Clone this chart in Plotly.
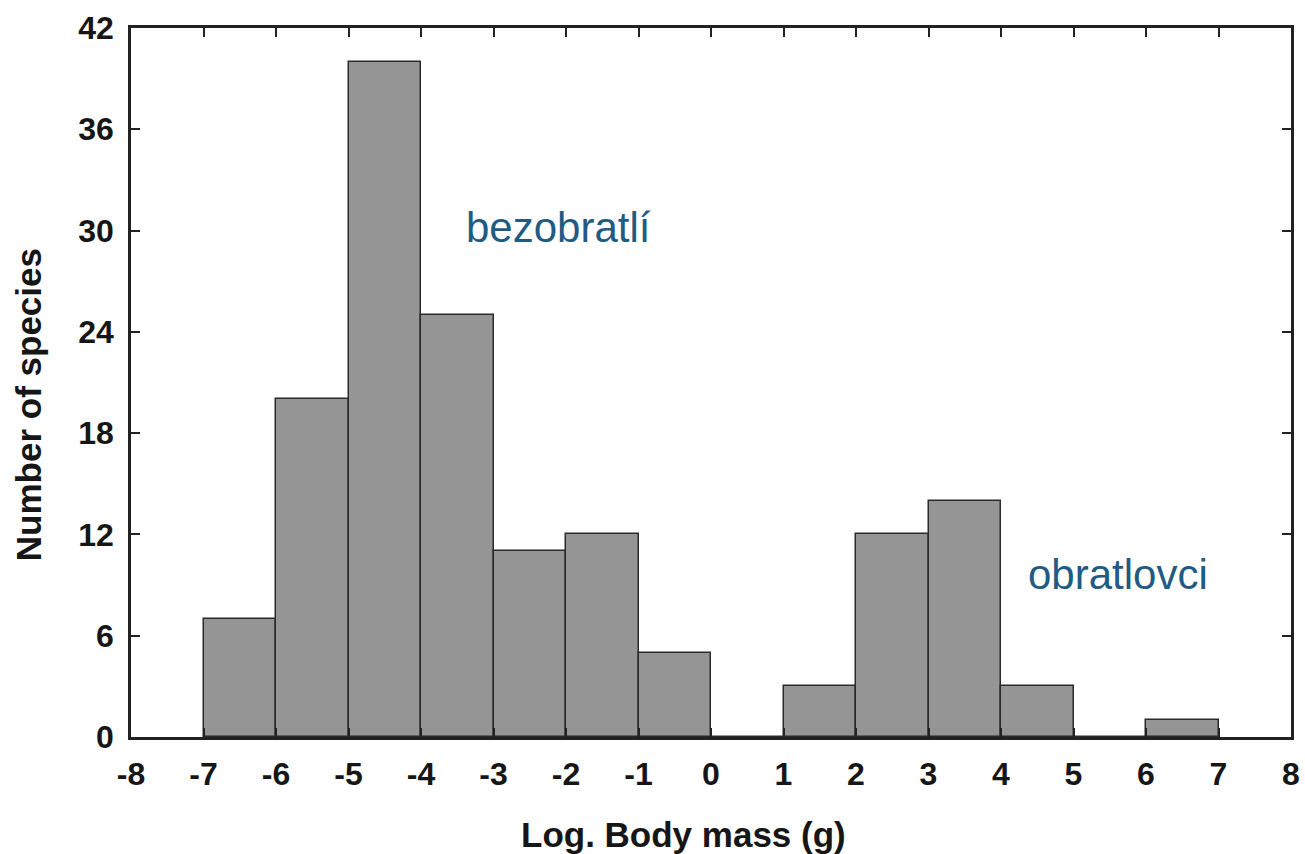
import plotly.graph_objects as go

# Histogram bins of log10 body mass (g) and species counts
bin_left = [-7, -6, -5, -4, -3, -2, -1, 0, 1, 2, 3, 4, 5, 6]
counts = [7, 20, 40, 25, 11, 12, 5, 0, 3, 12, 14, 3, 0, 1]
x_ticks = list(range(-8, 9))
y_ticks = [0, 6, 12, 18, 24, 30, 36, 42]

bin_width = 1
centers = [b + bin_width / 2 for b in bin_left]

FONT = "Liberation Sans, Arial, sans-serif"
INK = "#161616"

fig = go.Figure()
fig.add_trace(go.Bar(
    x=centers,
    y=counts,
    width=[bin_width] * len(centers),
    marker=dict(color="#959595", line=dict(color="#2a2a2a", width=1.5)),
    hoverinfo="x+y",
))

tick_font = dict(family=FONT, size=32, color=INK, weight="bold")

common_axis = dict(
    tickmode="array",
    ticks="inside",
    ticklen=9,
    tickwidth=2,
    tickcolor="#222222",
    showline=True,
    linecolor="#222222",
    linewidth=2.5,
    mirror="ticks",
    showgrid=False,
    zeroline=False,
    automargin=False,
    tickfont=tick_font,
)

fig.update_layout(
    width=1305,
    height=854,
    autosize=False,
    paper_bgcolor="white",
    plot_bgcolor="white",
    margin=dict(l=131, r=14, t=28, b=117),
    showlegend=False,
    bargap=0,
    font=dict(family=FONT, color=INK),
    xaxis=dict(
        range=[-8, 8],
        tickvals=x_ticks,
        ticktext=[str(v) for v in x_ticks],
        ticklabelstandoff=7,
        **common_axis,
    ),
    yaxis=dict(
        range=[0, 42],
        tickvals=y_ticks,
        ticktext=[str(v) for v in y_ticks],
        ticklabelstandoff=8,
        **common_axis,
    ),
)

# Axis titles (bold), placed as annotations
title_font = dict(family=FONT, size=35, color=INK, weight="bold")
fig.add_annotation(
    text="Log. Body mass (g)",
    xref="paper", yref="paper",
    x=0.476, y=0, yshift=-97,
    showarrow=False,
    font=title_font,
    xanchor="center", yanchor="middle",
)
fig.add_annotation(
    text="Number of species",
    xref="paper", yref="paper",
    x=0, xshift=-103, y=0.468,
    textangle=-90,
    showarrow=False,
    font=title_font,
    xanchor="center", yanchor="middle",
)

# Group labels
label_font = dict(family=FONT, size=42, color="#1f5b82")
fig.add_annotation(
    text="bezobratlí", x=-2.1, y=30.2, xref="x", yref="y",
    showarrow=False, font=label_font, xanchor="center", yanchor="middle",
)
fig.add_annotation(
    text="obratlovci", x=5.62, y=9.6, xref="x", yref="y",
    showarrow=False, font=label_font, xanchor="center", yanchor="middle",
)

fig.write_html("out.html")
